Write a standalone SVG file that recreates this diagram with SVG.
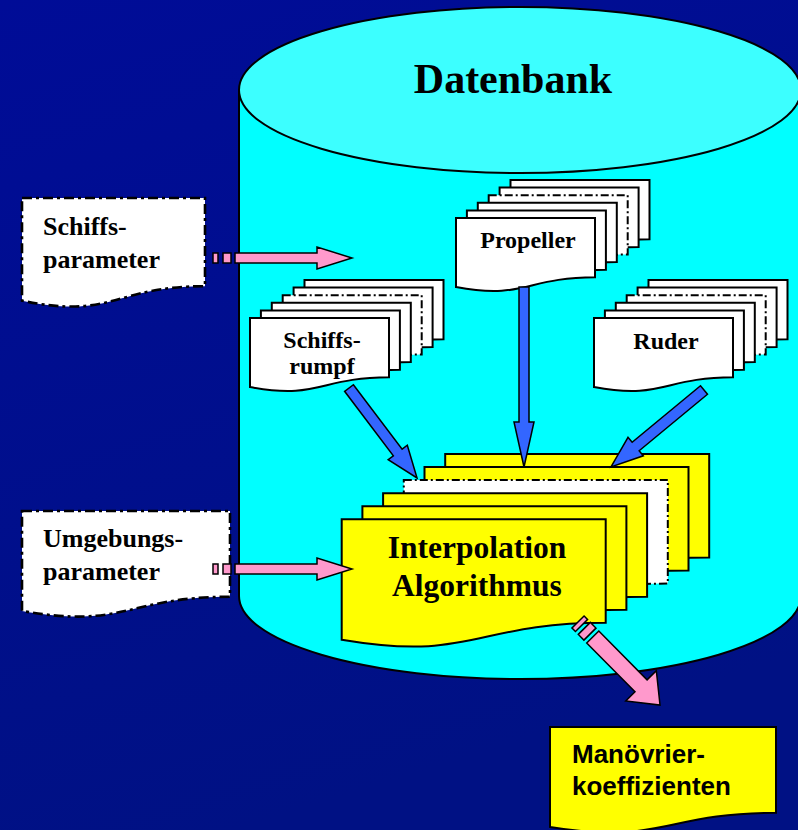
<svg xmlns="http://www.w3.org/2000/svg" width="798" height="830" viewBox="0 0 798 830">
<defs>
<linearGradient id="bg" x1="0" y1="0" x2="0.3" y2="1">
<stop offset="0" stop-color="#000C97"/>
<stop offset="1" stop-color="#001184"/>
</linearGradient>
<path id="sdoc" d="M0,0 H139 V59.3 C69.5,59.3 69.5,81.9 0,69.1 Z"/>
<path id="idoc" d="M0,0 H264 V103.5 C132,103.5 132,142.8 0,120.5 Z"/>
<style>
.doc{stroke:#000;stroke-width:2}
.w{fill:#fff}
.y{fill:#ffff00}
.dd{stroke-dasharray:8 3 2 3}
.pd{fill:#fff;stroke:#000;stroke-width:2.6;stroke-dasharray:10 4 3 4}
.blue{fill:#3366ff;stroke:#000;stroke-width:1.5;stroke-linejoin:miter}
.pink{fill:#ff99cc;stroke:#000;stroke-width:1.5;stroke-linejoin:miter}
.t{font-family:"Liberation Serif","Times New Roman",serif;font-weight:bold;fill:#000}
.s{font-family:"Liberation Sans",Arial,sans-serif;font-weight:bold;fill:#000}
</style>
</defs>
<rect x="0" y="0" width="798" height="830" fill="url(#bg)"/>

<g id="datenbank">
<path d="M239,90 V596 A281,83 0 0 0 801,596 V90 Z" fill="#00ffff" stroke="#000" stroke-width="2"/>
<ellipse cx="520" cy="90" rx="281" ry="83" fill="#3cffff" stroke="#000" stroke-width="2"/>
<text class="t" x="513" y="93" font-size="42" text-anchor="middle">Datenbank</text>
</g>

<g id="propeller">
<use href="#sdoc" x="510.5" y="180" class="doc w"/>
<use href="#sdoc" x="499.6" y="187.6" class="doc w"/>
<use href="#sdoc" x="488.7" y="195.2" class="doc w dd"/>
<use href="#sdoc" x="477.8" y="202.8" class="doc w"/>
<use href="#sdoc" x="466.9" y="210.4" class="doc w"/>
<use href="#sdoc" x="456" y="218" class="doc w"/>
<text class="t" x="528" y="248" font-size="24" text-anchor="middle">Propeller</text>
</g>

<g id="schiffsrumpf">
<use href="#sdoc" x="304.5" y="280" class="doc w"/>
<use href="#sdoc" x="293.6" y="287.6" class="doc w"/>
<use href="#sdoc" x="282.7" y="295.2" class="doc w dd"/>
<use href="#sdoc" x="271.8" y="302.8" class="doc w"/>
<use href="#sdoc" x="260.9" y="310.4" class="doc w"/>
<use href="#sdoc" x="250" y="318" class="doc w"/>
<text class="t" x="322" y="348" font-size="24" text-anchor="middle">Schiffs-</text>
<text class="t" x="322" y="374" font-size="24" text-anchor="middle">rumpf</text>
</g>

<g id="ruder">
<use href="#sdoc" x="648.5" y="280" class="doc w"/>
<use href="#sdoc" x="637.6" y="287.6" class="doc w"/>
<use href="#sdoc" x="626.7" y="295.2" class="doc w dd"/>
<use href="#sdoc" x="615.8" y="302.8" class="doc w"/>
<use href="#sdoc" x="604.9" y="310.4" class="doc w"/>
<use href="#sdoc" x="594" y="318" class="doc w"/>
<text class="t" x="666" y="349" font-size="24" text-anchor="middle">Ruder</text>
</g>

<g id="interpolation">
<use href="#idoc" x="445.2" y="454" class="doc y"/>
<use href="#idoc" x="424.5" y="467.1" class="doc y"/>
<use href="#idoc" x="403.8" y="480.1" class="doc w dd"/>
<use href="#idoc" x="383.1" y="493.2" class="doc y"/>
<use href="#idoc" x="362.4" y="506.2" class="doc y"/>
<use href="#idoc" x="341.7" y="519.3" class="doc y"/>
<text class="t" x="477" y="558" font-size="31.5" text-anchor="middle">Interpolation</text>
<text class="t" x="477" y="596" font-size="31.5" text-anchor="middle">Algorithmus</text>
</g>

<g id="schiffsparameter">
<path class="pd" d="M22,198 H205 V286.2 C113.5,286.2 113.5,319.8 22,300.7 Z"/>
<text class="t" x="43" y="235" font-size="26">Schiffs-</text>
<text class="t" x="43" y="268" font-size="26">parameter</text>
</g>

<g id="umgebungsparameter">
<path class="pd" d="M22,511 H230 V596.8 C126,596.8 126,629.4 22,610.9 Z"/>
<text class="t" x="43" y="547" font-size="26">Umgebungs-</text>
<text class="t" x="43" y="580" font-size="26">parameter</text>
</g>

<g id="connectors">
<path class="blue" transform="translate(524,287) rotate(90)" d="M0,-5 H135 V-10 L180,0 L135,10 V5 H0 Z"/>
<path class="blue" transform="translate(349,388) rotate(52.9)" d="M0,-5.5 H80.8 V-12 L112.8,0 L80.8,12 V5.5 H0 Z"/>
<path class="blue" transform="translate(704,390) rotate(140.4)" d="M0,-5.5 H88.7 V-12 L120.7,0 L88.7,12 V5.5 H0 Z"/>
<g transform="translate(213,258)">
<rect class="pink" x="0" y="-5" width="5" height="10"/>
<rect class="pink" x="10" y="-5" width="8" height="10"/>
<path class="pink" d="M22,-5 H104 V-11 L139,0 L104,11 V5 H22 Z"/>
</g>
<g transform="translate(213,569)">
<rect class="pink" x="0" y="-5" width="5" height="10"/>
<rect class="pink" x="10" y="-5" width="8" height="10"/>
<path class="pink" d="M22,-5 H104 V-11 L139,0 L104,11 V5 H22 Z"/>
</g>
<g transform="translate(578,622) rotate(45.35)">
<rect class="pink" x="0" y="-8.5" width="5" height="17"/>
<rect class="pink" x="9" y="-8.5" width="8" height="17"/>
<path class="pink" d="M21,-8.5 H89.7 V-21.5 L116.7,0 L89.7,21.5 V8.5 H21 Z"/>
</g>
</g>

<g id="manoevrier">
<path d="M550,727 H776 V812.8 C663,812.8 663,845.4 550,826.9 Z" fill="#ffff00" stroke="#000" stroke-width="2"/>
<text class="s" x="572" y="763" font-size="26">Manövrier-</text>
<text class="s" x="572" y="795" font-size="26">koeffizienten</text>
</g>
</svg>
